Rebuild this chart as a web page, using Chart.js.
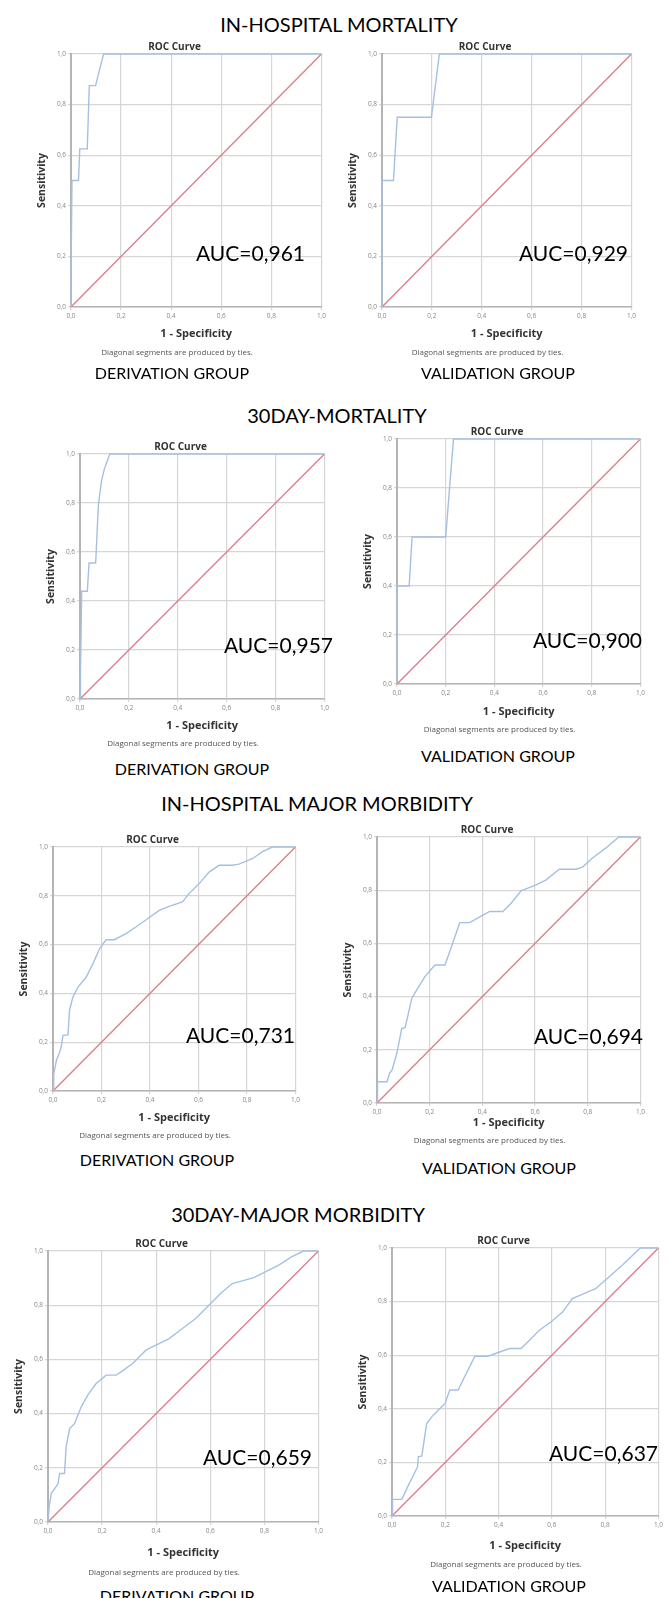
<!DOCTYPE html>
<html>
<head>
<meta charset="utf-8">
<script src="https://cdn.jsdelivr.net/npm/chart.js@4.4.0/dist/chart.umd.min.js"></script>
<style>
body{margin:0;width:670px;height:1598px;position:relative;background:#fff;overflow:hidden}
canvas{position:absolute}
.lbl{position:absolute;font-family:Lato,"Open Sans",sans-serif;color:#000;white-space:nowrap;line-height:1;transform:translate(-50%,-45%)}
.head{font-size:20px}
.grp{font-size:16px}
.auc{font-size:21px;transform:translate(-100%,-38%)}
</style>
</head>
<body>
<script>
const tickLabels = ['0,0', '0,2', '0,4', '0,6', '0,8', '1,0'];
const refLineX = [0, 1];
const refLineY = [0, 1];

// in-hospital mortality
const ihMortDerivX = [0, 0, 0.004, 0.03, 0.035, 0.065, 0.073, 0.098, 0.13, 1];
const ihMortDerivY = [0, 0.125, 0.5, 0.5, 0.625, 0.625, 0.875, 0.875, 1, 1];
const ihMortValidX = [0, 0, 0.046, 0.061, 0.198, 0.23, 1];
const ihMortValidY = [0, 0.5, 0.5, 0.75, 0.75, 1, 1];

// 30 day mortality
const d30MortDerivX = [0, 0.002, 0.007, 0.03, 0.037, 0.064, 0.07, 0.075, 0.088, 0.1, 0.122, 1];
const d30MortDerivY = [0, 0.11, 0.44, 0.44, 0.555, 0.555, 0.68, 0.79, 0.89, 0.94, 1, 1];
const d30MortValidX = [0, 0, 0.05, 0.062, 0.2, 0.232, 1];
const d30MortValidY = [0, 0.4, 0.4, 0.6, 0.6, 1, 1];

// in-hospital major morbidity
const ihMorbDerivX = [0, 0.003, 0.014, 0.025, 0.034, 0.041, 0.062, 0.068, 0.082, 0.103, 0.137, 0.164, 0.192, 0.219, 0.253, 0.301, 0.342, 0.39, 0.438, 0.479, 0.534, 0.562, 0.603, 0.644, 0.685, 0.74, 0.767, 0.822, 0.863, 0.904, 1];
const ihMorbDerivY = [0, 0.07, 0.125, 0.153, 0.18, 0.228, 0.23, 0.33, 0.385, 0.426, 0.467, 0.52, 0.583, 0.62, 0.62, 0.645, 0.672, 0.706, 0.74, 0.757, 0.775, 0.81, 0.85, 0.897, 0.925, 0.925, 0.93, 0.952, 0.98, 1, 1];
const ihMorbValidX = [0, 0.002, 0.038, 0.048, 0.057, 0.075, 0.094, 0.107, 0.132, 0.151, 0.182, 0.22, 0.258, 0.283, 0.314, 0.352, 0.39, 0.428, 0.478, 0.509, 0.547, 0.604, 0.642, 0.692, 0.755, 0.78, 0.818, 0.868, 0.918, 1];
const ihMorbValidY = [0, 0.08, 0.08, 0.113, 0.123, 0.186, 0.28, 0.284, 0.393, 0.425, 0.475, 0.519, 0.519, 0.588, 0.678, 0.678, 0.7, 0.72, 0.72, 0.751, 0.798, 0.82, 0.839, 0.879, 0.879, 0.887, 0.921, 0.958, 1, 1];

// 30 day major morbidity
const d30MorbDerivX = [0, 0.004, 0.012, 0.025, 0.037, 0.043, 0.061, 0.067, 0.08, 0.098, 0.123, 0.147, 0.178, 0.215, 0.252, 0.27, 0.313, 0.362, 0.399, 0.448, 0.497, 0.546, 0.595, 0.638, 0.681, 0.718, 0.761, 0.804, 0.853, 0.902, 0.945, 1];
const d30MorbDerivY = [0, 0.055, 0.105, 0.123, 0.142, 0.179, 0.179, 0.277, 0.345, 0.363, 0.425, 0.468, 0.511, 0.542, 0.542, 0.554, 0.585, 0.634, 0.653, 0.677, 0.714, 0.751, 0.8, 0.843, 0.88, 0.89, 0.902, 0.923, 0.948, 0.979, 1, 1];
const d30MorbValidX = [0, 0.002, 0.037, 0.056, 0.081, 0.096, 0.099, 0.112, 0.13, 0.149, 0.18, 0.199, 0.217, 0.248, 0.311, 0.36, 0.404, 0.441, 0.484, 0.516, 0.553, 0.596, 0.64, 0.677, 0.72, 0.764, 0.814, 0.863, 0.932, 1];
const d30MorbValidY = [0, 0.062, 0.062, 0.103, 0.153, 0.184, 0.221, 0.224, 0.345, 0.37, 0.401, 0.42, 0.47, 0.47, 0.596, 0.596, 0.612, 0.625, 0.625, 0.656, 0.693, 0.724, 0.761, 0.811, 0.83, 0.848, 0.892, 0.935, 1, 1];

const sectionTitles = ['IN-HOSPITAL MORTALITY', '30DAY-MORTALITY', 'IN-HOSPITAL MAJOR MORBIDITY', '30DAY-MAJOR MORBIDITY'];
const aucLabels = ['AUC=0,961', 'AUC=0,929', 'AUC=0,957', 'AUC=0,900', 'AUC=0,731', 'AUC=0,694', 'AUC=0,659', 'AUC=0,637'];
const groupLabels = ['DERIVATION GROUP', 'VALIDATION GROUP'];

const curveColor = '#a6c0e2';
const diagColor = '#dd7f8b';

// layout of the page (plot box L,T,R,B / offsets of texts)
const panels = [
  {fx: ihMortDerivX, fy: ihMortDerivY, box: [71, 54, 323, 307], xt: 26, ft: 46, auc: [305, 250], grp: [172, 372]},
  {fx: ihMortValidX, fy: ihMortValidY, box: [382, 54, 633, 307], xt: 26, ft: 46, auc: [628, 250], grp: [498, 372]},
  {fx: d30MortDerivX, fy: d30MortDerivY, box: [80, 454, 326, 699], xt: 26, ft: 45, auc: [333, 642], grp: [192, 768]},
  {fx: d30MortValidX, fy: d30MortValidY, box: [397, 439, 642, 684], xt: 27, ft: 46, auc: [642, 637], grp: [498, 755]},
  {fx: ihMorbDerivX, fy: ihMorbDerivY, box: [53, 847, 297, 1091], xt: 26, ft: 45, auc: [295, 1032], grp: [157, 1159]},
  {fx: ihMorbValidX, fy: ihMorbValidY, box: [377, 837, 642, 1103], xt: 19, ft: 38, auc: [643, 1033], grp: [499, 1167]},
  {fx: d30MorbDerivX, fy: d30MorbDerivY, box: [48, 1251, 320, 1522], xt: 30, ft: 51, auc: [312, 1454], grp: [177, 1595]},
  {fx: d30MorbValidX, fy: d30MorbValidY, box: [392, 1248, 660, 1516], xt: 29, ft: 49, auc: [658, 1450], grp: [509, 1585]}
];
const headPos = [[339, 23], [337, 414], [317, 802], [298, 1213]];

function points(xs, ys) {
  return xs.map((x, i) => ({x: x, y: ys[i]}));
}

function addLabel(cls, text, x, y) {
  let d = document.createElement('div');
  d.className = 'lbl ' + cls;
  d.textContent = text;
  d.style.left = x + 'px';
  d.style.top = y + 'px';
  document.body.appendChild(d);
}

const footNote = {
  id: 'footNote',
  afterDraw(chart, args, opts) {
    let ctx = chart.ctx;
    ctx.save();
    ctx.font = '8px "Open Sans"';
    ctx.fillStyle = '#555';
    ctx.textAlign = 'center';
    ctx.textBaseline = 'middle';
    ctx.fillText('Diagonal segments are produced by ties.', chart.width / 2, chart.chartArea.bottom + opts.offset);
    ctx.restore();
  }
};

function makeChart(p) {
  const [L, T, R, B] = p.box;
  const padL = 45, padR = 5, titleH = 13;
  const xh = p.xt + 7;
  const footH = p.ft - p.xt + 4;
  let cv = document.createElement('canvas');
  cv.width = R - L + padL + padR;
  cv.height = titleH + (B - T) + xh + footH;
  cv.style.left = (L - padL) + 'px';
  cv.style.top = (T - titleH) + 'px';
  document.body.appendChild(cv);

  const grid = {color: '#d6d6d6', lineWidth: 1.2, tickLength: 3};
  const tickFont = {family: 'Open Sans', size: 6.5};

  new Chart(cv.getContext('2d'), {
    type: 'line',
    data: {
      datasets: [
        {data: points(p.fx, p.fy), borderColor: curveColor, borderWidth: 1.4, pointRadius: 0, tension: 0, clip: 3},
        {data: points(refLineX, refLineY), borderColor: diagColor, borderWidth: 1.4, pointRadius: 0, clip: 3}
      ]
    },
    options: {
      responsive: false,
      animation: false,
      layout: {padding: {left: 0, right: padR, top: 0, bottom: footH}},
      plugins: {
        legend: {display: false},
        tooltip: {enabled: false},
        title: {
          display: true, text: 'ROC Curve', color: '#333',
          font: {family: 'Open Sans', size: 10, weight: 'bold'},
          padding: {top: 0, bottom: 1}
        },
        footNote: {offset: p.ft}
      },
      scales: {
        x: {
          type: 'linear', min: 0, max: 1,
          afterFit: s => { s.height = xh; },
          ticks: {stepSize: 0.2, callback: (v, i) => tickLabels[i], font: tickFont, color: '#888', padding: 2, maxRotation: 0, autoSkip: false},
          grid: grid,
          border: {color: '#b4b4b4', width: 1.5},
          title: {display: true, text: '1 - Specificity', color: '#333', font: {family: 'Open Sans', size: 11, weight: 'bold'}, padding: {top: 0, bottom: 0}}
        },
        y: {
          type: 'linear', min: 0, max: 1,
          afterFit: s => { s.width = padL; },
          ticks: {stepSize: 0.2, callback: (v, i) => tickLabels[i], font: tickFont, color: '#888', padding: 2},
          grid: grid,
          border: {color: '#b4b4b4', width: 2},
          title: {display: true, text: 'Sensitivity', color: '#333', font: {family: 'Open Sans', size: 10.5, weight: 'bold'}, padding: {top: 10, bottom: 0}}
        }
      }
    },
    plugins: [footNote]
  });
}

sectionTitles.forEach((t, i) => addLabel('head', t, headPos[i][0], headPos[i][1]));
panels.forEach((p, i) => {
  makeChart(p);
  addLabel('auc', aucLabels[i], p.auc[0], p.auc[1]);
  addLabel('grp', groupLabels[i % 2], p.grp[0], p.grp[1]);
});
</script>
</body>
</html>
